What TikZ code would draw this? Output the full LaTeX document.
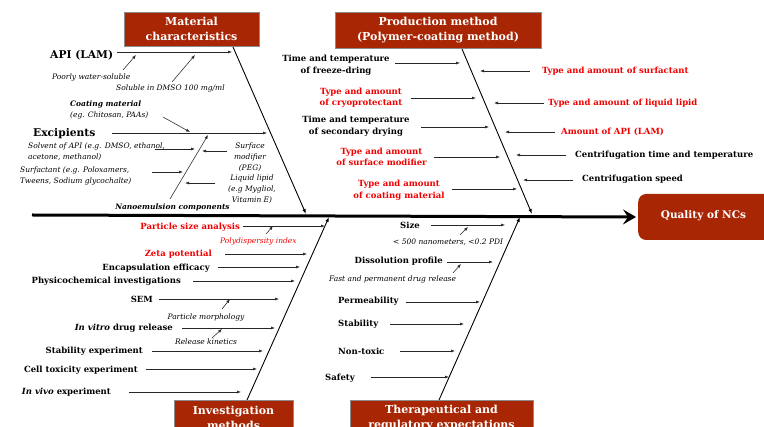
\documentclass[tikz,border=0pt]{standalone}
\usepackage{fontspec}
\setmainfont{DejaVu Serif}
\usetikzlibrary{arrows.meta}
\definecolor{boxred}{RGB}{168,38,4}
\definecolor{txtred}{RGB}{240,0,0}
\tikzset{
 lbl/.style={font=\bfseries\fontsize{8.5}{11.5}\selectfont, inner sep=0pt, align=center},
 rlbl/.style={lbl,text=txtred},
 big/.style={font=\bfseries\fontsize{10.7}{12}\selectfont, inner sep=0pt},
 note/.style={font=\itshape\fontsize{7.5}{11}\selectfont, inner sep=0pt, align=left},
 cnote/.style={note, align=center},
 bnote/.style={font=\bfseries\itshape\fontsize{7.5}{11}\selectfont, inner sep=0pt, align=left},
 arr/.style={-{Latex[length=4pt,width=3pt]}, line width=0.55pt, black!85},
 bone/.style={-{Latex[length=5pt,width=3.5pt]}, line width=0.9pt},
 spine/.style={-{Stealth[length=13pt,width=15pt,inset=5pt]}, line width=3pt},
 cat/.style={draw=black!45, line width=0.6pt, fill=boxred, text=white, font=\bfseries\fontsize{11}{15}\selectfont, align=center, inner sep=0pt},
}
\begin{document}
\begin{tikzpicture}[x=1pt,y=-1pt]
\useasboundingbox (0,0) rectangle (764,427);

% ---- category boxes
\node[cat, minimum width=135, minimum height=34] (mat) at (191.5,29) {Material\\characteristics};
\node[cat, minimum width=206, minimum height=36] (prod) at (438,30) {Production method\\(Polymer-coating method)};
\node[cat, minimum width=119, minimum height=36, anchor=north] (inv) at (233.5,400) {Investigation\\methods};
\node[cat, minimum width=183, minimum height=36, anchor=north] (ther) at (441.5,400) {Therapeutical and\\regulatory expectations};
\node[fill=boxred, rounded corners=8pt, minimum width=136, minimum height=46, anchor=west, inner sep=0pt] (qbox) at (638,217) {};
\node[text=white, font=\bfseries\fontsize{10.5}{12}\selectfont, inner sep=0pt] (qual) at (703.5,216) {Quality of NCs};

% ---- spine and bones
\coordinate (s0) at (32,215);
\draw[spine] (s0) -- ([xshift=-2pt]qbox.west);
\coordinate (m0) at (233,47);   \coordinate (m1) at (306,214);
\coordinate (p0) at (462,49);   \coordinate (p1) at (532,214);
\coordinate (i0) at (247,400);  \coordinate (i1) at (329,217);
\coordinate (t0) at (439,400);  \coordinate (t1) at (520,217);
\draw[bone] (m0) -- (m1);
\draw[bone] (p0) -- (p1);
\draw[bone] (i0) -- (i1);
\draw[bone] (t0) -- (t1);

% ---- Material characteristics
\node[big, anchor=west] (api) at (50,55) {API (LAM)};
\node[note, anchor=west] (pws) at (52,77) {Poorly water-soluble};
\node[note, anchor=west] (sol) at (116,88) {Soluble in DMSO 100 mg/ml};
\node[note, anchor=west] (coat) at (70,109.5) {\bfseries Coating material\\(eg. Chitosan, PAAs)};
\node[big, anchor=west] (exc) at (33,134) {Excipients};
\node[note, anchor=west] (solv) at (28,151.5) {Solvent of API (e.g. DMSO, ethanol,\\acetone, methanol)};
\node[note, anchor=west] (surf) at (20,175.5) {Surfactant (e.g. Poloxamers,\\Tweens, Sodium glycochalte)};
\node[cnote] (smod) at (250,157) {Surface\\modifier\\(PEG)};
\node[cnote] (llip) at (252,189) {Liquid lipid\\(e.g Mygliol,\\Vitamin E)};
\node[bnote] (nano) at (172.5,207) {Nanoemulsion components};

\coordinate (a1s) at (117,52);  \coordinate (a1e) at (232,52);
\coordinate (a2s) at (123,70);  \coordinate (a2e) at (136,55);
\coordinate (a3s) at (172,82);  \coordinate (a3e) at (195,55);
\coordinate (a4s) at (163,117); \coordinate (a4e) at (190,132);
\coordinate (a5s) at (112,133); \coordinate (a5e) at (267,133);
\coordinate (a6s) at (155,149); \coordinate (a6e) at (195,149);
\coordinate (a7s) at (170,199); \coordinate (a7e) at (208,135);
\coordinate (a8s) at (227,151); \coordinate (a8e) at (202,151);
\coordinate (a9s) at (152,172); \coordinate (a9e) at (183,172);
\coordinate (a10s) at (215,183); \coordinate (a10e) at (185,183);
\foreach \k in {1,...,10} \draw[arr] (a\k s) -- (a\k e);

% ---- Production method
\node[lbl] (fd) at (336,65) {Time and temperature\\of freeze-dring};
\node[rlbl] (cryo) at (361,97.5) {Type and amount\\of cryoprotectant};
\node[lbl] (sd) at (356,126) {Time and temperature\\of secondary drying};
\node[rlbl] (sm) at (381.5,157) {Type and amount\\of surface modifier};
\node[rlbl] (cm) at (399,190) {Type and amount\\of coating material};
\node[rlbl, anchor=west] (ts) at (542,71) {Type and amount of surfactant};
\node[rlbl, anchor=west] (tl) at (548,103) {Type and amount of liquid lipid};
\node[rlbl, anchor=west] (aa) at (561,132) {Amount of API (LAM)};
\node[lbl, anchor=west] (ct) at (575,155) {Centrifugation time and temperature};
\node[lbl, anchor=west] (cs) at (582,179) {Centrifugation speed};

\coordinate (b1s) at (395,63);  \coordinate (b1e) at (460,63);
\coordinate (b2s) at (411,98);  \coordinate (b2e) at (476,98);
\coordinate (b3s) at (421,127); \coordinate (b3e) at (489,127);
\coordinate (b4s) at (434,157); \coordinate (b4e) at (500,157);
\coordinate (b5s) at (452,189); \coordinate (b5e) at (517,189);
\coordinate (b6s) at (530,71);  \coordinate (b6e) at (480,71);
\coordinate (b7s) at (544,103); \coordinate (b7e) at (494,103);
\coordinate (b8s) at (555,132); \coordinate (b8e) at (505,132);
\coordinate (b9s) at (566,155); \coordinate (b9e) at (516,155);
\coordinate (b10s) at (573,180); \coordinate (b10e) at (523,180);
\foreach \k in {1,...,10} \draw[arr] (b\k s) -- (b\k e);

% ---- Investigation methods
\node[rlbl, anchor=east] (psa) at (240,227) {Particle size analysis};
\node[note, text=txtred, anchor=west] (pdi) at (220,241) {Polydispersity index};
\node[rlbl, anchor=east] (zeta) at (212,254) {Zeta potential};
\node[lbl, anchor=east] (enc) at (210,268) {Encapsulation efficacy};
\node[lbl, anchor=east] (phys) at (181,281) {Physicochemical investigations};
\node[lbl, anchor=east] (sem) at (153,299) {SEM};
\node[cnote] (morph) at (206,317) {Particle morphology};
\node[lbl, anchor=east] (vitro) at (173,328) {{\itshape In vitro} drug release};
\node[cnote] (kin) at (206,342) {Release kinetics};
\node[lbl, anchor=east] (stab) at (143,351) {Stability experiment};
\node[lbl, anchor=east] (cell) at (138,370) {Cell toxicity experiment};
\node[lbl, anchor=east] (vivo) at (111,392) {{\itshape In vivo} experiment};

\coordinate (c1s) at (243,226);  \coordinate (c1e) at (325,226);
\coordinate (c2s) at (266,234);  \coordinate (c2e) at (273,226);
\coordinate (c3s) at (225,254);  \coordinate (c3e) at (307,254);
\coordinate (c4s) at (218,267);  \coordinate (c4e) at (300,267);
\coordinate (c5s) at (193,281);  \coordinate (c5e) at (295,281);
\coordinate (c6s) at (159,299);  \coordinate (c6e) at (279,299);
\coordinate (c7s) at (222,309);  \coordinate (c7e) at (230,299);
\coordinate (c8s) at (182,328);  \coordinate (c8e) at (275,328);
\coordinate (c9s) at (212,338);  \coordinate (c9e) at (222,329);
\coordinate (c10s) at (152,351); \coordinate (c10e) at (263,351);
\coordinate (c11s) at (146,369); \coordinate (c11e) at (257,369);
\coordinate (c12s) at (129,392); \coordinate (c12e) at (241,392);
\foreach \k in {1,...,12} \draw[arr] (c\k s) -- (c\k e);

% ---- Therapeutical and regulatory expectations
\node[lbl, anchor=east] (size) at (420,225) {Size};
\node[note, anchor=west] (nm) at (393,242) {< 500 nanometers, <0.2 PDI};
\node[lbl, anchor=east] (diss) at (443,261) {Dissolution profile};
\node[note, anchor=west] (fast) at (329,279) {Fast and permanent drug release};
\node[lbl, anchor=west] (perm) at (338,301) {Permeability};
\node[lbl, anchor=west] (stb) at (338,324) {Stability};
\node[lbl, anchor=west] (ntox) at (338,351) {Non-toxic};
\node[lbl, anchor=west] (saf) at (325,378) {Safety};

\coordinate (d1s) at (431,225);  \coordinate (d1e) at (505,225);
\coordinate (d2s) at (460,235);  \coordinate (d2e) at (468,227);
\coordinate (d3s) at (447,262);  \coordinate (d3e) at (493,262);
\coordinate (d4s) at (453,273);  \coordinate (d4e) at (461,264);
\coordinate (d5s) at (406,302);  \coordinate (d5e) at (480,302);
\coordinate (d6s) at (390,324);  \coordinate (d6e) at (464,324);
\coordinate (d7s) at (400,351);  \coordinate (d7e) at (455,351);
\coordinate (d8s) at (371,377);  \coordinate (d8e) at (449,377);
\foreach \k in {1,...,8} \draw[arr] (d\k s) -- (d\k e);
\end{tikzpicture}
\end{document}
